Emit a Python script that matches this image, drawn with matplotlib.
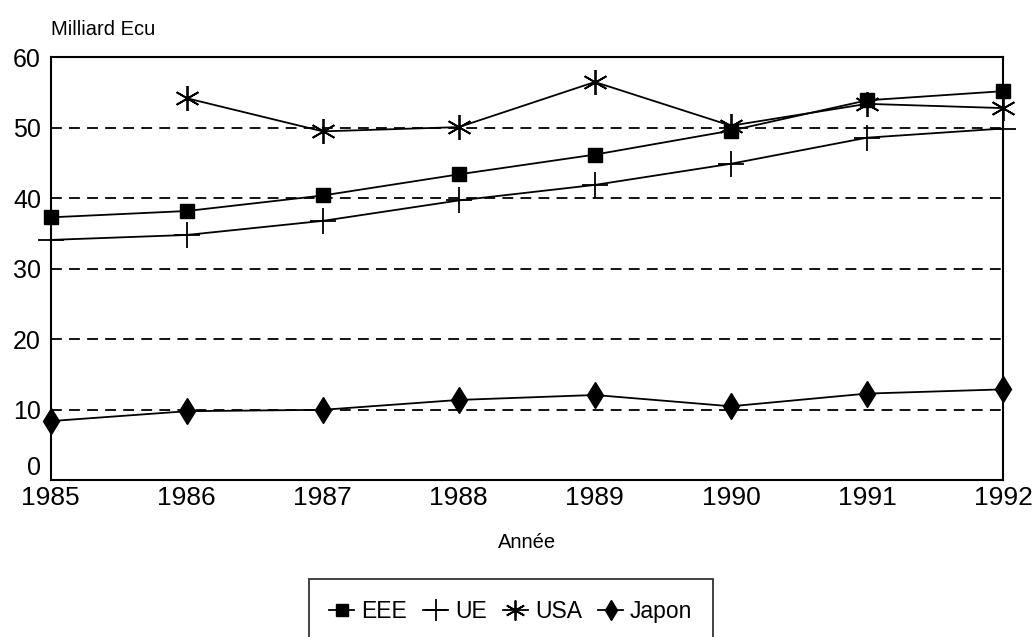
import matplotlib.pyplot as plt

plt.rcParams['font.family'] = ['Liberation Sans', 'DejaVu Sans']

years = [1985, 1986, 1987, 1988, 1989, 1990, 1991, 1992]
eee = [37.3, 38.2, 40.4, 43.4, 46.2, 49.6, 53.9, 55.2]
ue = [34.1, 34.8, 36.8, 39.7, 41.9, 44.9, 48.6, 49.9]
usa_years = [1986, 1987, 1988, 1989, 1990, 1991, 1992]
usa = [54.2, 49.5, 50.1, 56.5, 50.3, 53.4, 52.8]
japon = [8.4, 9.8, 10.0, 11.4, 12.1, 10.5, 12.3, 12.9]

fig = plt.figure(figsize=(10.34, 6.37), dpi=100)
ax = fig.add_axes([0.049, 0.246, 0.921, 0.664])

for y in [10, 20, 30, 40, 50]:
    ax.axhline(y, color='black', lw=1.3, ls=(0, (6, 4)), zorder=1)

ax.plot(years, eee, color='black', lw=1.3, marker='s', ms=10, label='EEE',
        zorder=3, clip_on=False)
ax.plot(years, ue, color='black', lw=1.3, marker='+', ms=19, mew=1.3, label='UE',
        zorder=3, clip_on=False)
ax.plot(usa_years, usa, color='black', lw=1.3, marker=(6, 2, 0), ms=18, mew=1.3,
        label='USA', zorder=3, clip_on=False)
ax.plot(years, japon, color='black', lw=1.3, marker='d', ms=13, label='Japon',
        zorder=3, clip_on=False)

ax.set_xlim(1985, 1992)
ax.set_ylim(0, 60)
ax.set_xticks(years)
ax.set_yticks([0, 10, 20, 30, 40, 50, 60])
ax.tick_params(axis='x', length=0, labelsize=19, pad=4)
ax.tick_params(axis='y', length=0, labelsize=18, pad=7)
# the "0" sits just above the bottom axis line, clear of "1985"
ax.get_yticklabels()[0].set_verticalalignment('bottom')
for s in ax.spines.values():
    s.set_linewidth(1.5)
    s.set_color('black')

fig.text(0.049, 0.954, 'Milliard Ecu', fontsize=14.5, ha='left', va='center')
fig.text(0.51, 0.149, 'Année', fontsize=14.5, ha='center', va='center')

leg = fig.legend(loc='upper center', bbox_to_anchor=(0.494, 0.091), ncol=4,
                 fontsize=16.5, frameon=True, fancybox=False, edgecolor='black',
                 handlelength=1.1, handletextpad=0.3, columnspacing=0.7,
                 borderpad=0.9, borderaxespad=0, markerscale=0.8)
leg.get_frame().set_linewidth(1.3)

fig.savefig('out.png', dpi=100)
